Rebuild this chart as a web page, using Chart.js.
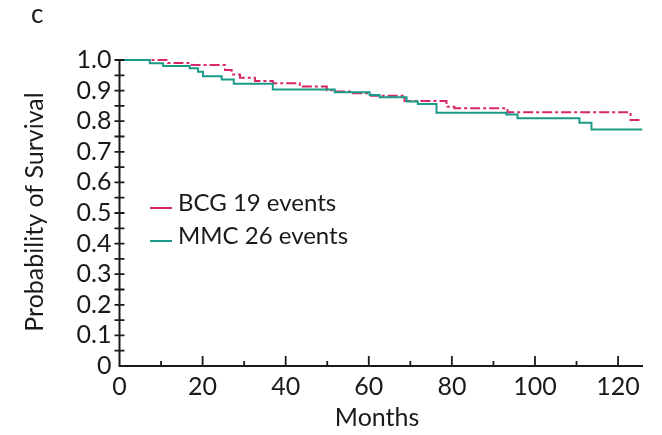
<!DOCTYPE html>
<html>
<head>
<meta charset="utf-8">
<script src="https://cdn.jsdelivr.net/npm/chart.js@4"></script>
<style>
  html, body { margin: 0; padding: 0; background: #fff; }
  #wrap { width: 662px; height: 435px; position: relative; }
</style>
</head>
<body>
<div id="wrap"><canvas id="c" width="662" height="435"></canvas></div>
<script>
// ---- data ----
const bcgLabel = 'BCG 19 events';
const mmcLabel = 'MMC 26 events';
const bcgMonths   = [0, 11.7, 17.4, 25.4, 27.0, 29.0, 32.6, 36.9, 43.4, 49.9, 51.8, 55.9, 60.5, 68.6, 78.7, 80.6, 93.4, 123.0, 125.8];
const bcgSurvival = [1.0, 0.990, 0.984, 0.967, 0.953, 0.942, 0.931, 0.924, 0.913, 0.901, 0.897, 0.891, 0.883, 0.866, 0.847, 0.842, 0.829, 0.804, 0.804];
const mmcMonths   = [0, 7.3, 10.5, 16.9, 18.9, 20.1, 24.6, 27.5, 36.9, 51.8, 60.2, 62.6, 69.1, 71.8, 76.3, 93.1, 95.8, 110.7, 113.6, 125.8];
const mmcSurvival = [1.0, 0.989, 0.980, 0.973, 0.962, 0.947, 0.936, 0.922, 0.904, 0.895, 0.886, 0.878, 0.864, 0.856, 0.828, 0.822, 0.810, 0.795, 0.773, 0.773];
const xTickValues = [0, 20, 40, 60, 80, 100, 120];
const xMinorValues = [10, 30, 50, 70, 90, 110];
const yTickValues = [0, 0.1, 0.2, 0.3, 0.4, 0.5, 0.6, 0.7, 0.8, 0.9, 1.0];
const yMinorValues = [0.05, 0.15, 0.25, 0.35, 0.45, 0.55, 0.65, 0.75, 0.85, 0.95];
const xTitle = 'Months';
const yTitle = 'Probability of Survival';
const panelLetter = 'c';

const PINK = '#d8266a';
const TEAL = '#1a9a88';
const INK = '#1a1a1a';
const FONT = 'Lato, "Open Sans", sans-serif';

const toPts = (xs, ys) => xs.map((x, i) => ({ x: x, y: ys[i] }));

const decor = {
  id: 'decor',
  afterDatasetsDraw(chart) {
    const ctx = chart.ctx;
    const xs = chart.scales.x, ys = chart.scales.y;
    const a = chart.chartArea;
    ctx.save();
    ctx.strokeStyle = INK;
    ctx.lineWidth = 2;
    ctx.lineCap = 'butt';
    // axes
    ctx.beginPath();
    ctx.moveTo(a.left, a.top);
    ctx.lineTo(a.left, a.bottom);
    ctx.lineTo(a.right, a.bottom);
    ctx.stroke();
    // y ticks (crossing the axis)
    ctx.lineWidth = 1.8;
    ctx.beginPath();
    yTickValues.concat(yMinorValues).forEach(v => {
      if (v === 0) return;
      const py = ys.getPixelForValue(v);
      ctx.moveTo(a.left - 5, py);
      ctx.lineTo(a.left + 5, py);
    });
    // x ticks (inward)
    xTickValues.forEach(v => {
      if (v === 0) return;
      const px = xs.getPixelForValue(v);
      ctx.moveTo(px, a.bottom);
      ctx.lineTo(px, a.bottom - 10);
    });
    xMinorValues.forEach(v => {
      const px = xs.getPixelForValue(v);
      ctx.moveTo(px, a.bottom);
      ctx.lineTo(px, a.bottom - 5);
    });
    ctx.stroke();

    // legend
    ctx.lineWidth = 2;
    const legendItems = [
      { label: chart.data.datasets[1].label, color: chart.data.datasets[1].borderColor, y: 208 },
      { label: chart.data.datasets[0].label, color: chart.data.datasets[0].borderColor, y: 241 }
    ];
    ctx.font = '24px ' + FONT;
    ctx.fillStyle = INK;
    ctx.textAlign = 'left';
    ctx.textBaseline = 'alphabetic';
    legendItems.forEach(it => {
      ctx.strokeStyle = it.color;
      ctx.beginPath();
      ctx.moveTo(150, it.y);
      ctx.lineTo(172, it.y);
      ctx.stroke();
      ctx.fillText(it.label, 178, it.y + 3);
    });

    // titles
    ctx.fillStyle = INK;
    ctx.textAlign = 'center';
    ctx.textBaseline = 'middle';
    ctx.font = '25px ' + FONT;
    ctx.fillText(xTitle, xs.getPixelForValue(62), 418);
    ctx.save();
    ctx.translate(35, 212);
    ctx.rotate(-Math.PI / 2);
    ctx.fillText(yTitle, 0, 0);
    ctx.restore();
    ctx.font = '26px ' + FONT;
    ctx.textAlign = 'left';
    ctx.fillText(panelLetter, 31, 15);
    ctx.restore();
  }
};

new Chart(document.getElementById('c'), {
  type: 'line',
  data: {
    datasets: [
      {
        label: mmcLabel,
        data: toPts(mmcMonths, mmcSurvival),
        borderColor: TEAL,
        borderWidth: 2,
        stepped: true,
        pointRadius: 0,
        fill: false,
        clip: 4
      },
      {
        label: bcgLabel,
        data: toPts(bcgMonths, bcgSurvival),
        borderColor: PINK,
        borderWidth: 2,
        borderDash: [10, 3, 3, 3],
        stepped: true,
        pointRadius: 0,
        fill: false,
        clip: 4
      }
    ]
  },
  options: {
    responsive: false,
    animation: false,
    layout: { padding: { left: 0, right: 19, top: 60, bottom: 0 } },
    plugins: { legend: { display: false }, tooltip: { enabled: false } },
    scales: {
      x: {
        type: 'linear',
        min: 0,
        max: 126,
        afterBuildTicks: s => { s.ticks = xTickValues.map(v => ({ value: v })); },
        afterFit: s => { s.height = 69; },
        grid: { display: false, drawTicks: false, tickLength: 0 },
        border: { display: false },
        ticks: {
          padding: 6,
          color: INK,
          font: { family: FONT, size: 25 },
          maxRotation: 0,
          autoSkip: false,
          callback: v => String(v)
        }
      },
      y: {
        type: 'linear',
        min: 0,
        max: 1,
        afterBuildTicks: s => { s.ticks = yTickValues.map(v => ({ value: v })); },
        afterFit: s => { s.width = 119.5; },
        grid: { display: false, drawTicks: false, tickLength: 0 },
        border: { display: false },
        ticks: {
          padding: 8,
          color: INK,
          font: { family: FONT, size: 25 },
          autoSkip: false,
          callback: v => (v === 0 ? '0' : v.toFixed(1))
        }
      }
    }
  },
  plugins: [decor]
});
</script>
</body>
</html>
